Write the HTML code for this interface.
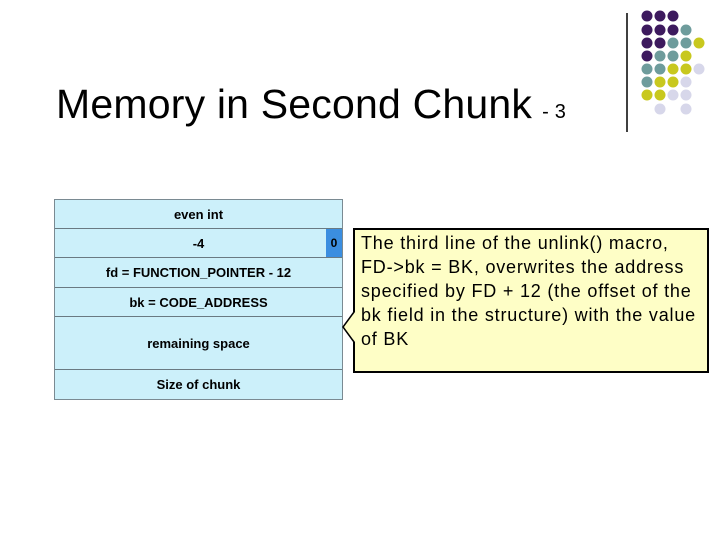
<!DOCTYPE html>
<html><head><style>
body{margin:0;width:720px;height:540px;background:#fff;position:relative;overflow:hidden;font-family:"Liberation Sans",sans-serif}
.t{position:absolute;left:56px;top:81px;font-size:41px;color:#000;white-space:nowrap;letter-spacing:0.2px}
.t span{font-size:20px;margin-left:10px}
.tb{position:absolute;left:54px;top:199px;width:289px;border:1px solid #7a8a92;box-sizing:border-box}
.r{background:#ccf0fa;border-bottom:1px solid #6a7a82;display:flex;align-items:center;justify-content:center;font-weight:bold;font-size:13px;position:relative;box-sizing:border-box}
.r:last-child{border-bottom:none}
.b{position:absolute;right:0;top:0;bottom:0;width:16px;background:#3b8ee0;font-size:12px;display:flex;align-items:center;justify-content:center}
.c{position:absolute;left:353px;top:228px;width:356px;height:145px;background:#fefec6;border:2px solid #000;box-sizing:border-box;padding:1px 6px;font-size:18px;letter-spacing:0.8px;line-height:24px;white-space:nowrap}
</style></head><body>
<div class="t">Memory in Second Chunk<span>- 3</span></div>
<svg width="720" height="540" style="position:absolute;left:0;top:0">
<line x1="627" y1="13" x2="627" y2="132" stroke="#000" stroke-width="1.5"/>
<g>
<circle cx="647" cy="16" r="5.5" fill="#3d1a5e"/><circle cx="660" cy="16" r="5.5" fill="#3d1a5e"/><circle cx="673" cy="16" r="5.5" fill="#3d1a5e"/>
<circle cx="647" cy="30" r="5.5" fill="#3d1a5e"/><circle cx="660" cy="30" r="5.5" fill="#3d1a5e"/><circle cx="673" cy="30" r="5.5" fill="#3d1a5e"/><circle cx="686" cy="30" r="5.5" fill="#6e9c9c"/>
<circle cx="647" cy="43" r="5.5" fill="#3d1a5e"/><circle cx="660" cy="43" r="5.5" fill="#3d1a5e"/><circle cx="673" cy="43" r="5.5" fill="#6e9c9c"/><circle cx="686" cy="43" r="5.5" fill="#6e9c9c"/><circle cx="699" cy="43" r="5.5" fill="#c8c81e"/>
<circle cx="647" cy="56" r="5.5" fill="#3d1a5e"/><circle cx="660" cy="56" r="5.5" fill="#6e9c9c"/><circle cx="673" cy="56" r="5.5" fill="#6e9c9c"/><circle cx="686" cy="56" r="5.5" fill="#c8c81e"/>
<circle cx="647" cy="69" r="5.5" fill="#6e9c9c"/><circle cx="660" cy="69" r="5.5" fill="#6e9c9c"/><circle cx="673" cy="69" r="5.5" fill="#c8c81e"/><circle cx="686" cy="69" r="5.5" fill="#c8c81e"/><circle cx="699" cy="69" r="5.5" fill="#d7d7ea"/>
<circle cx="647" cy="82" r="5.5" fill="#6e9c9c"/><circle cx="660" cy="82" r="5.5" fill="#c8c81e"/><circle cx="673" cy="82" r="5.5" fill="#c8c81e"/><circle cx="686" cy="82" r="5.5" fill="#d7d7ea"/>
<circle cx="647" cy="95" r="5.5" fill="#c8c81e"/><circle cx="660" cy="95" r="5.5" fill="#c8c81e"/><circle cx="673" cy="95" r="5.5" fill="#d7d7ea"/><circle cx="686" cy="95" r="5.5" fill="#d7d7ea"/>
<circle cx="660" cy="109" r="5.5" fill="#d7d7ea"/><circle cx="686" cy="109" r="5.5" fill="#d7d7ea"/>
</g>
</svg>
<div class="tb">
<div class="r" style="height:29px">even int</div>
<div class="r" style="height:29px">-4<div class="b">0</div></div>
<div class="r" style="height:30px">fd = FUNCTION_POINTER - 12</div>
<div class="r" style="height:29px">bk = CODE_ADDRESS</div>
<div class="r" style="height:53px">remaining space</div>
<div class="r" style="height:29px">Size of chunk</div>
</div>
<div class="c">The third line of the unlink() macro,<br>FD-&gt;bk = BK, overwrites the address<br>specified by FD + 12 (the offset of the<br>bk field in the structure) with the value<br>of BK</div>
<svg width="720" height="540" style="position:absolute;left:0;top:0">
<polygon points="355,312 343,327 355,342" fill="#fefec6"/>
<polyline points="354,312 343,327 354,342" fill="none" stroke="#000" stroke-width="1.5"/>
</svg>
</body></html>
